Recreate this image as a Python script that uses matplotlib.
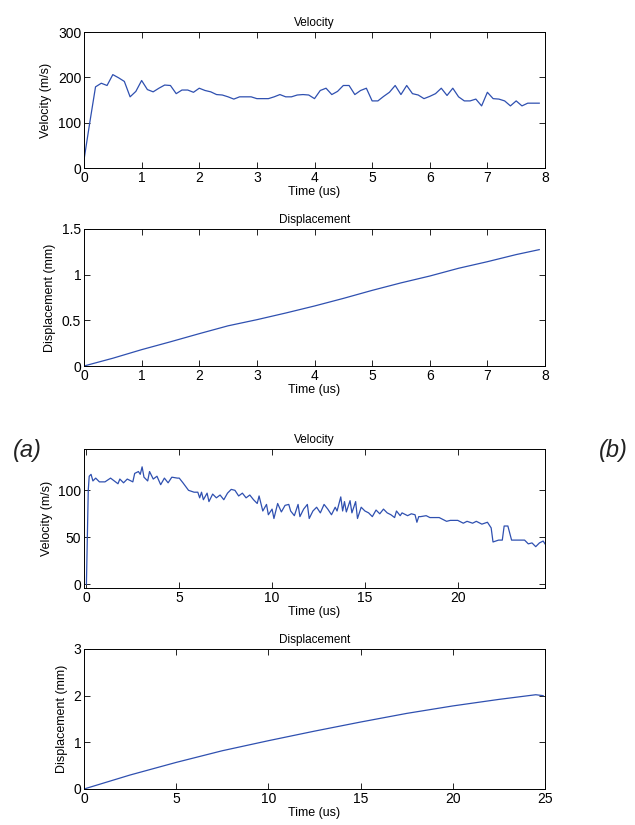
import matplotlib
matplotlib.use("Agg")
import matplotlib.pyplot as plt

# ---- data ----
# (a) short run: velocity sampled every 0.1 us
vel_a_t = [0.0, 0.1, 0.2, 0.3, 0.4, 0.5, 0.6, 0.7, 0.8, 0.9,
           1.0, 1.1, 1.2, 1.3, 1.4, 1.5, 1.6, 1.7, 1.8, 1.9,
           2.0, 2.1, 2.2, 2.3, 2.4, 2.5, 2.6, 2.7, 2.8, 2.9,
           3.0, 3.1, 3.2, 3.3, 3.4, 3.5, 3.6, 3.7, 3.8, 3.9,
           4.0, 4.1, 4.2, 4.3, 4.4, 4.5, 4.6, 4.7, 4.8, 4.9,
           5.0, 5.1, 5.2, 5.3, 5.4, 5.5, 5.6, 5.7, 5.8, 5.9,
           6.0, 6.1, 6.2, 6.3, 6.4, 6.5, 6.6, 6.7, 6.8, 6.9,
           7.0, 7.1, 7.2, 7.3, 7.4, 7.5, 7.6, 7.7, 7.8, 7.9]
vel_a = [18, 100, 179, 187, 182, 206, 199, 191, 157, 169,
         193, 173, 168, 176, 183, 182, 164, 172, 172, 167,
         176, 171, 168, 162, 161, 157, 152, 157, 157, 157,
         153, 153, 153, 157, 162, 157, 157, 161, 162, 161,
         153, 171, 176, 162, 169, 182, 182, 162, 171, 176,
         148, 148, 158, 167, 182, 162, 182, 164, 161, 153,
         158, 164, 176, 160, 176, 157, 148, 148, 152, 137,
         167, 153, 152, 148, 137, 148, 137, 143, 143, 143]

disp_a_t = [0.0, 0.5, 1.0, 1.5, 2.0, 2.5, 3.0, 3.5, 4.0, 4.5,
            5.0, 5.5, 6.0, 6.5, 7.0, 7.5, 7.9]
disp_a = [0.0, 0.085, 0.179, 0.265, 0.354, 0.44, 0.507, 0.58, 0.657, 0.74,
          0.828, 0.91, 0.985, 1.07, 1.142, 1.22, 1.274]

# (b) long run
vel_b_t = [0.0, 0.05, 0.1, 0.15, 0.25, 0.35, 0.5, 0.7, 1.0, 1.3,
           1.5, 1.7, 1.8, 2.0, 2.2, 2.5, 2.6, 2.8, 2.9, 3.0,
           3.1, 3.3, 3.4, 3.6, 3.8, 4.0, 4.2, 4.4, 4.6, 4.9,
           5.0, 5.2, 5.5, 5.8, 6.0, 6.1, 6.2, 6.3, 6.5, 6.6,
           6.8, 7.0, 7.2, 7.4, 7.6, 7.8, 8.0, 8.2, 8.4, 8.6,
           8.8, 9.0, 9.2, 9.3, 9.5, 9.7, 9.8, 10.0, 10.1, 10.3,
           10.5, 10.7, 10.9, 11.0, 11.2, 11.4, 11.5, 11.7, 11.9, 12.0,
           12.2, 12.4, 12.6, 12.8, 13.0, 13.2, 13.4, 13.5, 13.7, 13.8,
           13.9, 14.0, 14.2, 14.3, 14.5, 14.6, 14.8, 15.0, 15.2, 15.4,
           15.6, 15.8, 16.0, 16.2, 16.4, 16.6, 16.7, 16.9, 17.0, 17.3,
           17.5, 17.7, 17.8, 17.9, 18.0, 18.3, 18.5, 19.0, 19.2, 19.4,
           19.6, 20.0, 20.3, 20.5, 20.8, 21.0, 21.3, 21.6, 21.8, 21.9,
           22.2, 22.4, 22.5, 22.7, 22.9, 23.3, 23.6, 23.8, 24.0, 24.2,
           24.4, 24.6, 24.7]
vel_b = [0, 50, 100, 115, 117, 110, 113, 109, 109, 113,
         110, 107, 112, 108, 112, 109, 118, 120, 117, 125,
         114, 110, 120, 112, 115, 106, 113, 108, 114, 113,
         113, 108, 100, 98, 98, 92, 98, 90, 97, 88,
         96, 92, 95, 90, 97, 101, 100, 94, 97, 92,
         95, 90, 86, 94, 78, 85, 74, 80, 70, 86,
         77, 84, 85, 78, 73, 85, 72, 80, 85, 70,
         78, 82, 76, 85, 80, 74, 82, 78, 93, 78,
         88, 77, 89, 76, 88, 70, 82, 78, 76, 72,
         79, 75, 80, 76, 74, 71, 78, 73, 76, 73,
         75, 74, 66, 72, 72, 73, 71, 71, 69, 67,
         68, 68, 65, 67, 65, 67, 64, 66, 60, 45,
         47, 47, 62, 62, 47, 47, 47, 43, 44, 40,
         44, 46, 43]

disp_b_t = [0.0, 2.5, 5.0, 7.5, 10.0, 12.5, 15.0, 17.5, 20.0, 22.5, 24.5, 24.9]
disp_b = [0.0, 0.30, 0.57, 0.82, 1.035, 1.24, 1.435, 1.62, 1.78, 1.92, 2.02, 2.0]

LINE = "#2f50b0"
plt.rcParams["font.family"] = ["Liberation Sans Narrow", "Liberation Sans", "DejaVu Sans"]

fig = plt.figure(figsize=(6.35, 8.25), dpi=100)

W = 635.0
H = 825.0
left, right = 84, 545


def make_ax(top, bottom):
    ax = fig.add_axes([left / W, 1 - bottom / H, (right - left) / W, (bottom - top) / H])
    ax.tick_params(direction="in", top=True, right=True, length=4, width=0.6,
                   labelsize=10, pad=2)
    for s in ax.spines.values():
        s.set_linewidth(0.7)
    return ax


ax1 = make_ax(32, 168)
ax1.plot(vel_a_t, vel_a, color=LINE, lw=0.9)
ax1.set_xlim(0, 8)
ax1.set_ylim(0, 300)
ax1.set_yticks([0, 100, 200, 300])
ax1.set_title("Velocity", fontsize=8.5, pad=4)
ax1.set_xlabel("Time (us)", fontsize=9, labelpad=1)
ax1.set_ylabel("Velocity (m/s)", fontsize=9, labelpad=4)

ax2 = make_ax(229, 366)
ax2.plot(disp_a_t, disp_a, color=LINE, lw=0.9)
ax2.set_xlim(0, 8)
ax2.set_ylim(0, 1.5)
ax2.set_yticks([0, 0.5, 1, 1.5])
ax2.set_yticklabels(["0", "0.5", "1", "1.5"])
ax2.set_title("Displacement", fontsize=8.5, pad=4)
ax2.set_xlabel("Time (us)", fontsize=9, labelpad=1)
ax2.set_ylabel("Displacement (mm)", fontsize=9, labelpad=4)

ax3 = make_ax(449, 588)
ax3.plot(vel_b_t, vel_b, color=LINE, lw=0.9)
ax3.set_xlim(-0.13, 24.7)
ax3.set_ylim(-4, 144)
ax3.set_xticks([0, 5, 10, 15, 20])
ax3.set_yticks([0, 50, 100])
ax3.set_title("Velocity", fontsize=8.5, pad=4)
ax3.set_xlabel("Time (us)", fontsize=9, labelpad=1)
ax3.set_ylabel("Velocity (m/s)", fontsize=9, labelpad=4)

ax4 = make_ax(649, 789)
ax4.plot(disp_b_t, disp_b, color=LINE, lw=0.9)
ax4.set_xlim(0, 25)
ax4.set_ylim(0, 3)
ax4.set_yticks([0, 1, 2, 3])
ax4.set_title("Displacement", fontsize=8.5, pad=4)
ax4.set_xlabel("Time (us)", fontsize=9, labelpad=1)
ax4.set_ylabel("Displacement (mm)", fontsize=9, labelpad=4)

fig.text(27 / W, 1 - 451 / H, "(a)", fontsize=17, style="italic",
         family=["Liberation Sans", "DejaVu Sans"], color="#222222",
         ha="center", va="center")
fig.text(613 / W, 1 - 451 / H, "(b)", fontsize=17, style="italic",
         family=["Liberation Sans", "DejaVu Sans"], color="#222222",
         ha="center", va="center")

fig.savefig("out.png", dpi=100)
